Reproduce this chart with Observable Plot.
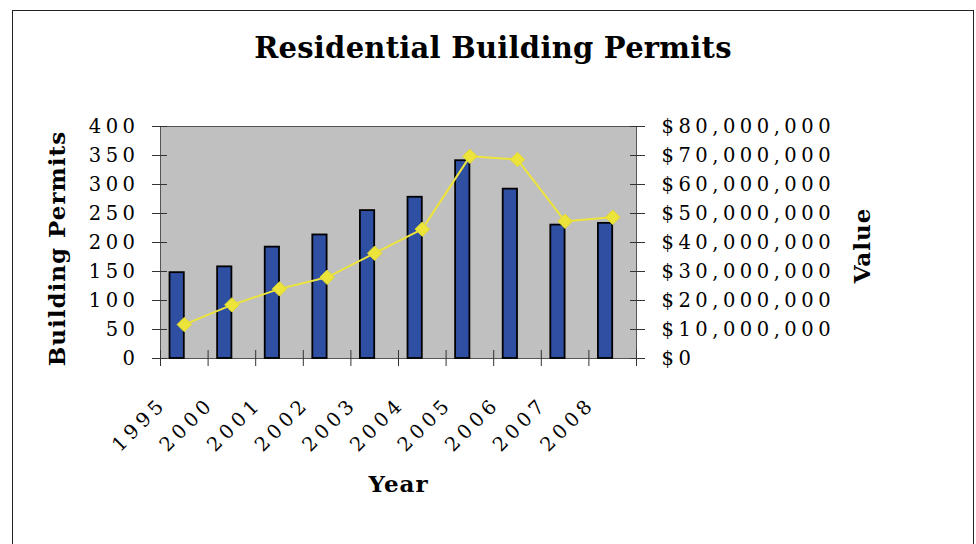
<!DOCTYPE html>
<html><head><meta charset="utf-8">
<script src="https://cdn.jsdelivr.net/npm/d3@7"></script>
<script src="https://cdn.jsdelivr.net/npm/@observablehq/plot@0.6"></script>
<style>
body{margin:0;background:#fff;}
#wrap{position:relative;width:976px;height:544px;overflow:hidden;font-family:"DejaVu Serif",serif;background:#fff;}
#frame{position:absolute;left:12px;top:10px;width:962px;height:600px;border:1.5px solid #222;box-sizing:border-box;}
#title{position:absolute;left:12px;width:962px;top:31px;text-align:center;font-size:29px;font-weight:bold;letter-spacing:0.25px;color:#000;}
#chart{position:absolute;left:0;top:100px;}
#chart g[font-weight="bold"]{letter-spacing:1px;}
</style></head>
<body><div id="wrap"><div id="frame"></div><div id="title">Residential Building Permits</div><div id="chart"></div></div>
<script>
const years = ["1995","2000","2001","2002","2003","2004","2005","2006","2007","2008"];
const permits = [148, 158, 192, 213, 255, 278, 341, 292, 230, 233];
const values = [11700000, 18500000, 24000000, 28000000, 36300000, 44600000, 69700000, 68600000, 47300000, 48700000];
const leftTicks = [0, 50, 100, 150, 200, 250, 300, 350, 400];
const rightTicks = [0, 10000000, 20000000, 30000000, 40000000, 50000000, 60000000, 70000000, 80000000];

const ratio = 80000000 / 400;
const rows = years.map((y, i) => ({i, year: y, permits: permits[i], value: values[i]}));
const fmt = d3.format(",");

const chart = Plot.plot({
  width: 976, height: 444,
  marginTop: 26, marginBottom: 186, marginLeft: 160, marginRight: 340,
  style: {fontFamily: "DejaVu Serif, serif", fontSize: "19.5px", color: "#000", letterSpacing: "4.5px", background: "transparent"},
  x: {type: "linear", domain: [0, years.length], axis: null},
  y: {domain: [0, 400], axis: null},
  marks: [
    Plot.frame({fill: "#c0c0c0", stroke: "#555"}),
    Plot.rectY(rows, {x1: d => d.i + 0.2, x2: d => d.i + 0.5, y: "permits", fill: "#2e4fa2", stroke: "#000", strokeWidth: 1.8}),
    Plot.line(rows, {x: d => d.i + 0.5, y: d => d.value / ratio, stroke: "#ece43a", strokeWidth: 2}),
    Plot.dot(rows, {x: d => d.i + 0.5, y: d => d.value / ratio, symbol: "diamond2", r: 6.5, fill: "#ece43a", stroke: "#e2da30", strokeWidth: 1}),
    Plot.axisY({ticks: leftTicks, anchor: "left", tickSize: 8, tickPadding: 13, label: null, stroke: "#333"}),
    Plot.axisY({ticks: leftTicks, anchor: "left", tickSize: -7, text: null, label: null, stroke: "#333"}),
    Plot.axisY({ticks: rightTicks.map(v => v / ratio), anchor: "right", tickSize: 8, tickPadding: 17, label: null, stroke: "#333",
      tickFormat: d => "$" + fmt(d * ratio)}),
    Plot.axisY({ticks: leftTicks, anchor: "right", tickSize: -7, text: null, label: null, stroke: "#333"}),
    Plot.axisX({ticks: d3.range(0, years.length + 1), anchor: "bottom", tickSize: 8, text: null, label: null, stroke: "#333"}),
    Plot.axisX({ticks: d3.range(0, years.length + 1), anchor: "bottom", tickSize: -8, text: null, label: null, stroke: "#333"}),
    Plot.text(rows, {x: d => d.i + 0.5, text: "year", frameAnchor: "bottom", rotate: -45, textAnchor: "end", lineAnchor: "middle", dx: -21, dy: 42, fontSize: 19.5}),
    Plot.text(["Building Permits"], {frameAnchor: "left", textAnchor: "middle", lineAnchor: "middle", dx: -103, dy: 6, rotate: -90, fontWeight: "bold", fontSize: 23}),
    Plot.text(["Value"], {frameAnchor: "right", textAnchor: "middle", lineAnchor: "middle", dx: 226, dy: 3, rotate: -90, fontWeight: "bold", fontSize: 23}),
    Plot.text(["Year"], {frameAnchor: "bottom", textAnchor: "middle", lineAnchor: "middle", dy: 126, fontWeight: "bold", fontSize: 23})
  ]
});
document.getElementById("chart").appendChild(chart);
</script>
</body></html>
